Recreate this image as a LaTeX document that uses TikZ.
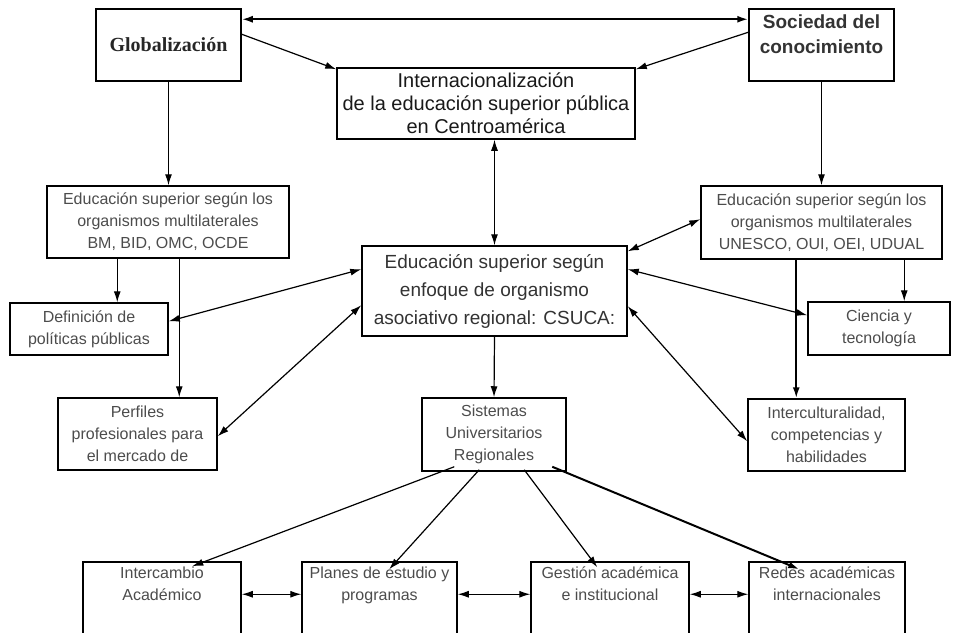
\documentclass[tikz,border=0pt]{standalone}
\usepackage{fontspec}
\setmainfont{Liberation Sans}
\newfontfamily\glfont{Liberation Serif}
\usetikzlibrary{arrows.meta,calc}

\begin{document}
\begin{tikzpicture}[x = 1pt, y = -1pt,
	 box/.style = {draw, line width = 1.5pt, inner sep = 0pt, align = center, text = black!70, font = \fontsize{16}{22}\selectfont},
	 txt/.style = {inner sep = 0pt, align = center, text = black!70, font = \fontsize{16}{22}\selectfont},
	 arr/.style = {line width = 1.2pt, -{Latex[length = 11pt, width = 7pt]}},
	 dbl/.style = {line width = 1.2pt, {Latex[length = 11pt, width = 7pt]}-{Latex[length = 11pt, width = 7pt]}}]
	 \clip (0, 0) rectangle (953, 632);
	 
	 \node[box, minimum width = 145pt, minimum height = 72pt, text = black!85, font = \glfont\bfseries\fontsize{20}{22}\selectfont] (glob) at (168.5, 45) {Globalización};
	 
	 \node[box, minimum width = 145pt, minimum height = 72pt] (soc) at (821.5, 45) {};
	 \node[txt, anchor = north, text = black!80, font = \bfseries\fontsize{19}{25}\selectfont] (soc-t) at ($(soc.north) + (0, 6)$) {Sociedad del\\conocimiento};
	 
	 \node[box, minimum width = 298pt, minimum height = 71pt, text = black!90, font = \fontsize{20}{23}\selectfont] (intl) at (486, 103.5) {Internacionalización\\de la educación superior pública\\en Centroamérica};
	 
	 \node[box, minimum width = 242pt, minimum height = 72pt] (eduL) at (168, 222) {Educación superior según los\\organismos multilaterales\\BM, BID, OMC, OCDE};
	 \node[box, minimum width = 241pt, minimum height = 73pt] (eduR) at (821.5, 222.5) {Educación superior según los\\organismos multilaterales\\UNESCO, OUI, OEI, UDUAL};
	 
	 \node[box, minimum width = 265pt, minimum height = 90pt, text = black!80, font = \fontsize{19}{28}\selectfont] (csuca) at (494.5, 291) {Educación superior según\\enfoque de organismo\\asociativo regional: CSUCA:};
	 
	 \node[box, minimum width = 158pt, minimum height = 52pt] (def) at (89, 329) {Definición de\\políticas públicas};
	 \node[box, minimum width = 159pt, minimum height = 72pt] (perf) at (137.5, 434) {Perfiles\\profesionales para\\el mercado de};
	 \node[box, minimum width = 144pt, minimum height = 73pt] (sis) at (494, 434.5) {Sistemas\\Universitarios\\Regionales};
	 \node[box, minimum width = 142pt, minimum height = 53pt] (cien) at (879, 328.5) {Ciencia y\\tecnología};
	 \node[box, minimum width = 157pt, minimum height = 72pt] (intc) at (826.5, 435) {Interculturalidad,\\competencias y\\habilidades};
	 
	 \node[box, minimum width = 158pt, minimum height = 100pt] (inter) at (162, 612) {};
	 \node[txt, anchor = north] (inter-t) at ($(inter.north) + (0, 5)$) {Intercambio\\Académico};
	 \node[box, minimum width = 155pt, minimum height = 100pt] (plan) at (379.5, 612) {};
	 \node[txt, anchor = north] (plan-t) at ($(plan.north) + (0, 5)$) {Planes de estudio y\\programas};
	 \node[box, minimum width = 158pt, minimum height = 100pt] (gest) at (610, 612) {};
	 \node[txt, anchor = north] (gest-t) at ($(gest.north) + (0, 5)$) {Gestión académica\\e institucional};
	 \node[box, minimum width = 156pt, minimum height = 100pt] (redes) at (827, 612) {};
	 \node[txt, anchor = north] (redes-t) at ($(redes.north) + (0, 5)$) {Redes académicas\\internacionales};
	 
	 \draw[dbl, line width = 2pt] ($(glob.north east) + (0, 11)$) -- ($(soc.north west) + (0, 11)$);
	 \draw[arr] ($(glob.north east) + (0, 26)$) -- ($(intl.north west) + (0, 2)$);
	 \draw[arr] ($(soc.north west) + (0, 24)$) -- ($(intl.north east) + (0, 2)$);
	 
	 \draw[arr] (glob.south) -- (glob.south |- eduL.north);
	 \draw[arr] (soc.south) -- (soc.south |- eduR.north);
	 
	 \draw[dbl] (csuca.north) -- (csuca.north |- intl.south);
	 \draw[arr] (csuca.south) -- (sis.north);
	 
	 \draw[arr] ($(eduL.south west) + (71, 0)$) -- ($(def.north west) + (108, 0)$);
	 \draw[arr] ($(eduL.south west) + (133, 0)$) -- ($(perf.north west) + (122, 0)$);
	 \draw[dbl] ($(csuca.north west) + (0, 24)$) -- ($(def.north east) + (0, 19)$);
	 \draw[dbl] ($(csuca.north west) + (0, 60)$) -- ($(perf.north east) + (0, 39)$);
	 
	 \draw[dbl] ($(csuca.north east) + (0, 6)$) -- ($(eduR.north west) + (0, 34)$);
	 \draw[dbl] ($(csuca.north east) + (0, 24)$) -- ($(cien.north west) + (0, 14)$);
	 \draw[dbl] ($(csuca.north east) + (0, 61)$) -- ($(intc.north west) + (0, 43)$);
	 \draw[arr] ($(eduR.south west) + (204, 0)$) -- ($(cien.north west) + (97, 0)$);
	 \draw[arr, line width = 2pt] ($(eduR.south west) + (96, 0)$) -- ($(intc.north west) + (49, 0)$);
	 
	 \draw[arr] ($(sis.south west) + (33, -5)$) -- ($(inter.north west) + (110, 5)$);
	 \draw[arr] ($(sis.south west) + (58, -2)$) -- ($(plan.north west) + (88, 8)$);
	 \draw[arr] ($(sis.south west) + (103, -2)$) -- ($(gest.north west) + (67, 6)$);
	 \draw[arr, line width = 2pt] ($(sis.south west) + (131, -5)$) -- ($(redes.north west) + (51, 8)$);
	 
	 \draw[dbl] ($(inter.north east) + (0, 33)$) -- ($(plan.north west) + (0, 33)$);
	 \draw[dbl] ($(plan.north east) + (0, 33)$) -- ($(gest.north west) + (0, 33)$);
	 \draw[dbl] ($(gest.north east) + (0, 33)$) -- ($(redes.north west) + (0, 33)$);
\end{tikzpicture}
\end{document}
